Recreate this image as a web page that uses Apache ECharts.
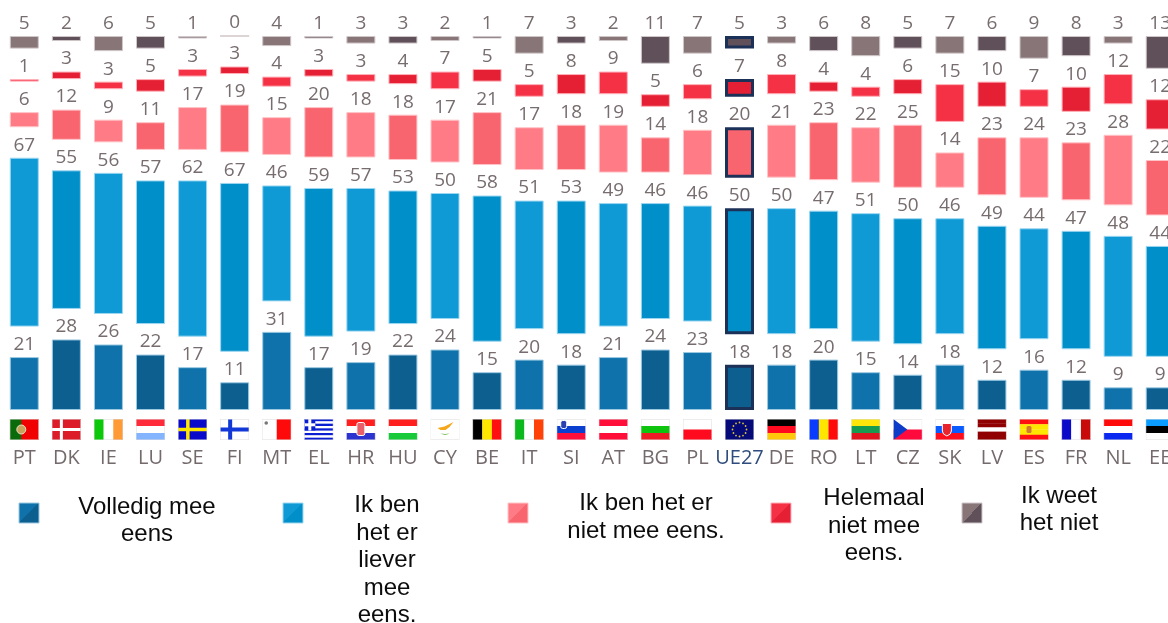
<!DOCTYPE html>
<html>
<head>
<meta charset="utf-8">
<style>
  html, body { margin: 0; padding: 0; background: #fff; overflow: hidden; }
  #chart { width: 1168px; height: 623px; }
</style>
<script src="https://cdn.jsdelivr.net/npm/echarts@6/dist/echarts.min.js"></script>
</head>
<body>
<div id="chart"></div>
<script>
const categories = ['PT','DK','IE','LU','SE','FI','MT','EL','HR','HU','CY','BE','IT','SI','AT','BG','PL','UE27','DE','RO','LT','CZ','SK','LV','ES','FR','NL','EE'];
const volledig = [21,28,26,22,17,11,31,17,19,22,24,15,20,18,21,24,23,18,18,20,15,14,18,12,16,12,9,9];
const liever = [67,55,56,57,62,67,46,59,57,53,50,58,51,53,49,46,46,50,50,47,51,50,46,49,44,47,48,44];
const nietMee = [6,12,9,11,17,19,15,20,18,18,17,21,17,18,19,14,18,20,21,23,22,25,14,23,24,23,28,22];
const helemaal = [1,3,3,5,3,3,4,3,3,4,7,5,5,8,9,5,6,7,8,4,4,6,15,10,7,10,12,12];
const weetNiet = [5,2,6,5,1,0,4,1,3,3,2,1,7,3,2,11,7,5,3,6,8,5,7,6,9,8,3,13];

// ruimte tussen de segmenten, daar staat het getal in
const gapValue = 12.1;
const gapValues = categories.map(() => gapValue);

const seriesColors = [
  ['#0f72aa', '#0d5f90'],
  ['#0f9ad6', '#008fc9'],
  ['#ff7b85', '#f9656f'],
  ['#f53145', '#e62034'],
  ['#877578', '#5f5059']
];
const edgeColors = ['#9cc9e2', '#9cd6f0', '#ffc4c8', '#ffb0b8', '#cfc6c8'];

const legendItems = [
  { text: 'Volledig mee\neens', x: 147, y: 521, box: 19 },
  { text: 'Ik ben\nhet er\nliever\nmee\neens.', x: 387, y: 560.5, box: 283 },
  { text: 'Ik ben het er\nniet mee eens.', x: 646, y: 517.5, box: 508 },
  { text: 'Helemaal\nniet mee\neens.', x: 874, y: 526, box: 771 },
  { text: 'Ik weet\nhet niet', x: 1059, y: 510, box: 962 }
];

// vlaggetjes als svg, 29x21
const W = 29, H = 21;
const hs = (cols) => cols.map((c, i) => `<rect x="0" y="${i * H / cols.length}" width="${W}" height="${H / cols.length + 0.2}" fill="${c}"/>`).join('');
const vs = (cols) => cols.map((c, i) => `<rect x="${i * W / cols.length}" y="0" width="${W / cols.length + 0.2}" height="${H}" fill="${c}"/>`).join('');
const cross = (bg, fg, w) => `<rect width="${W}" height="${H}" fill="${bg}"/><rect x="8" y="0" width="${w}" height="${H}" fill="${fg}"/><rect x="0" y="${10.5 - w / 2}" width="${W}" height="${w}" fill="${fg}"/>`;
const euStars = Array.from({ length: 12 }, (_, i) => {
  const a = i * Math.PI / 6;
  return `<circle cx="${14.5 + 7 * Math.sin(a)}" cy="${10.5 - 7 * Math.cos(a)}" r="0.9" fill="#d8c23a"/>`;
}).join('');
const flagShapes = {
  PT: `<rect width="${W}" height="${H}" fill="#f00000"/><rect width="11.5" height="${H}" fill="#0b6b0b"/><circle cx="11.5" cy="10.5" r="4.5" fill="#c9a35a" stroke="#e8e0c8"/>`,
  DK: cross('#dc1c28', '#fff', 3),
  IE: vs(['#0bc80b', '#fff', '#ff9a35']),
  LU: hs(['#ff2b3a', '#fff', '#85b4ff']),
  SE: cross('#0a0acb', '#ffe600', 3.5),
  FI: cross('#fff', '#1238d8', 4),
  MT: `<rect width="${W}" height="${H}" fill="#fff"/><rect x="14.5" width="14.5" height="${H}" fill="#ff0a0a"/><circle cx="4" cy="4" r="1.8" fill="#777"/>`,
  EL: hs(['#0a1ed2', '#fff', '#0a1ed2', '#fff', '#0a1ed2', '#fff', '#0a1ed2', '#fff', '#0a1ed2']) + `<rect width="11" height="11.5" fill="#0a1ed2"/><rect x="4" width="3" height="11.5" fill="#fff"/><rect y="4.3" width="11" height="3" fill="#fff"/>`,
  HR: hs(['#ff1f1f', '#fff', '#2c33cf']) + `<rect x="10.5" y="3.5" width="8" height="13" rx="2" fill="#e8606a" stroke="#fff"/>`,
  HU: hs(['#ff1f1f', '#fff', '#18c93a']),
  CY: `<rect width="${W}" height="${H}" fill="#fff"/><path d="M7 9 L14 7.5 L23 3 L19 8 L15 11 L10 11 Z" fill="#f5a81c"/><path d="M10 14 Q14.5 18 19 14 Q14.5 16 10 14 Z" fill="#7cc45b"/>`,
  BE: vs(['#000', '#ffe600', '#ff0f0f']),
  IT: vs(['#0bb81e', '#fff', '#ff4208']),
  SI: hs(['#fff', '#0a3fd0', '#ff0f3a']) + `<rect x="4" y="1.5" width="6" height="8" rx="2" fill="#2a3fb0" stroke="#fff"/>`,
  AT: hs(['#ff0f3a', '#fff', '#ff0f3a']),
  BG: hs(['#fff', '#0fc40f', '#ee1c25']),
  PL: hs(['#fff', '#ff0a1e']),
  UE27: `<rect width="${W}" height="${H}" fill="#050a78"/>` + euStars,
  DE: hs(['#000', '#ff0a1e', '#ffc80a']),
  RO: vs(['#0a3cff', '#ffe600', '#ff0a0a']),
  LT: hs(['#ffe60a', '#169a50', '#e0141e']),
  CZ: hs(['#fff', '#ff0a3c']) + `<path d="M0 0 L14 10.5 L0 21 Z" fill="#0d3cc8"/>`,
  SK: hs(['#fff', '#0a5cff', '#ff0f1e']) + `<path d="M7 4.5 H16 V12 Q16 15.5 11.5 17 Q7 15.5 7 12 Z" fill="#e8242e" stroke="#fff"/>`,
  LV: hs(['#900000', '#900000', '#fff', '#900000', '#900000']),
  ES: hs(['#ff0f0f', '#ffe600', '#ffe600', '#ff0f0f']) + `<rect x="7" y="7" width="5" height="7" rx="1.5" fill="#d07a30"/>`,
  FR: vs(['#0a0ac8', '#fff', '#c80a0a']),
  NL: hs(['#ff0a0a', '#fff', '#0a28f0']),
  EE: hs(['#0a9cff', '#000', '#fff'])
};

const flagRich = {};
categories.forEach((code) => {
  const svg = `<svg xmlns="http://www.w3.org/2000/svg" width="${W}" height="${H}" viewBox="0 0 ${W} ${H}">${flagShapes[code]}<rect x="0.25" y="0.25" width="${W - 0.5}" height="${H - 0.5}" fill="none" stroke="#dcdcdc" stroke-width="0.5"/></svg>`;
  flagRich['f' + code] = {
    width: W,
    height: H,
    lineHeight: H,
    backgroundColor: { image: 'data:image/svg+xml;charset=utf-8,' + encodeURIComponent(svg) }
  };
});

const makeBarSeries = (values, idx) => ({
  name: 'reeks' + idx,
  type: 'bar',
  stack: 'totaal',
  barWidth: 29,
  data: values.map((v, i) => {
    const isEu = categories[i] === 'UE27';
    return {
      value: v,
      itemStyle: {
        color: seriesColors[idx][i % 2],
        borderColor: isEu ? '#1c3158' : edgeColors[idx],
        borderWidth: isEu ? 3 : 1
      }
    };
  }),
  label: {
    show: true,
    position: 'top',
    distance: 3,
    color: '#776c6e',
    fontFamily: 'Open Sans',
    fontSize: 19
  }
});

const makeGapSeries = (idx) => ({
  name: 'gap' + idx,
  type: 'bar',
  stack: 'totaal',
  barWidth: 29,
  silent: true,
  itemStyle: { color: 'transparent' },
  data: gapValues
});

const chart = echarts.init(document.getElementById('chart'));
chart.setOption({
  animation: false,
  backgroundColor: '#fff',
  grid: { left: 3.26, top: 36, width: 1178, height: 374, outerBoundsMode: 'none' },
  xAxis: {
    type: 'category',
    data: categories,
    axisLine: { show: false },
    axisTick: { show: false },
    axisLabel: {
      interval: 0,
      margin: 9,
      hideOverlap: false,
      formatter: (code) => `{f${code}|}\n{${code === 'UE27' ? 'eu' : 'n'}|${code}}`,
      rich: Object.assign({
        n: { color: '#746a6c', fontFamily: 'Open Sans', fontSize: 20, lineHeight: 36 },
        eu: { color: '#2f4d7c', fontFamily: 'Open Sans', fontSize: 20, lineHeight: 36 }
      }, flagRich)
    }
  },
  yAxis: { type: 'value', min: 0, max: 148.4, show: false, splitLine: { show: false } },
  series: [
    makeBarSeries(volledig, 0), makeGapSeries(0),
    makeBarSeries(liever, 1), makeGapSeries(1),
    makeBarSeries(nietMee, 2), makeGapSeries(2),
    makeBarSeries(helemaal, 3), makeGapSeries(3),
    makeBarSeries(weetNiet, 4)
  ],
  graphic: legendItems.flatMap((item, i) => [
    {
      type: 'rect',
      shape: { x: item.box, y: 503, width: 20, height: 20 },
      style: {
        // schuine tweekleur zoals in de legenda
        fill: new echarts.graphic.LinearGradient(0, 0, 1, 1, [
          { offset: 0, color: seriesColors[i][0] },
          { offset: 0.5, color: seriesColors[i][0] },
          { offset: 0.5, color: seriesColors[i][1] },
          { offset: 1, color: seriesColors[i][1] }
        ]),
        stroke: edgeColors[i],
        lineWidth: 1
      }
    },
    {
      type: 'text',
      x: item.x,
      y: item.y,
      style: {
        text: item.text,
        fill: '#0c0c0c',
        font: '24px "Liberation Sans"',
        align: 'center',
        verticalAlign: 'middle',
        lineHeight: 27.5
      }
    }
  ])
});
</script>
</body>
</html>
